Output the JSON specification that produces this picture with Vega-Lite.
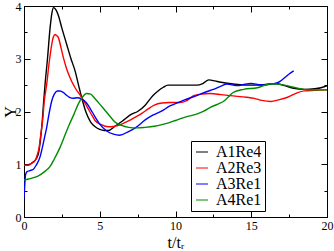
{
  "$schema": "https://vega.github.io/schema/vega-lite/v6.json",
  "autosize": {"type": "none"},
  "padding": {"left": 24, "top": 6, "right": 7, "bottom": 34},
  "width": 303,
  "height": 211,
  "background": "white",
  "config": {
    "font": "Liberation Serif",
    "style": {
      "guide-label": {"font": "Liberation Serif"},
      "guide-title": {"font": "Liberation Serif"}
    },
    "view": {"stroke": "black", "strokeWidth": 1},
    "axis": {
      "grid": false,
      "domainColor": "black",
      "tickColor": "black",
      "labelColor": "black",
      "titleColor": "black",
      "labelFont": "Liberation Serif",
      "titleFont": "Liberation Serif",
      "labelFontSize": 12,
      "titleFontSize": 16,
      "titleFontWeight": "normal"
    }
  },
  "datasets": {
    "curves": [
      {"t":0,"y":0.98,"s":"A1Re4"},{"t":0.3,"y":0.99,"s":"A1Re4"},{"t":0.6,"y":1.04,"s":"A1Re4"},{"t":0.8,"y":1.1,"s":"A1Re4"},{"t":0.95,"y":1.2,"s":"A1Re4"},{"t":1.1,"y":1.5,"s":"A1Re4"},{"t":1.2,"y":1.8,"s":"A1Re4"},{"t":1.3,"y":2.2,"s":"A1Re4"},{"t":1.4,"y":2.55,"s":"A1Re4"},{"t":1.55,"y":3.0,"s":"A1Re4"},{"t":1.72,"y":3.58,"s":"A1Re4"},{"t":1.85,"y":3.88,"s":"A1Re4"},{"t":1.95,"y":3.97,"s":"A1Re4"},{"t":2.1,"y":3.93,"s":"A1Re4"},{"t":2.27,"y":3.82,"s":"A1Re4"},{"t":2.5,"y":3.58,"s":"A1Re4"},{"t":2.82,"y":3.27,"s":"A1Re4"},{"t":3.1,"y":3.0,"s":"A1Re4"},{"t":3.37,"y":2.77,"s":"A1Re4"},{"t":3.6,"y":2.5,"s":"A1Re4"},{"t":3.8,"y":2.27,"s":"A1Re4"},{"t":4.1,"y":1.98,"s":"A1Re4"},{"t":4.4,"y":1.8,"s":"A1Re4"},{"t":4.7,"y":1.71,"s":"A1Re4"},{"t":5.0,"y":1.66,"s":"A1Re4"},{"t":5.3,"y":1.64,"s":"A1Re4"},{"t":5.57,"y":1.64,"s":"A1Re4"},{"t":6.0,"y":1.72,"s":"A1Re4"},{"t":6.5,"y":1.82,"s":"A1Re4"},{"t":7.1,"y":1.95,"s":"A1Re4"},{"t":7.5,"y":2.0,"s":"A1Re4"},{"t":8.0,"y":2.12,"s":"A1Re4"},{"t":8.5,"y":2.3,"s":"A1Re4"},{"t":8.85,"y":2.39,"s":"A1Re4"},{"t":9.2,"y":2.46,"s":"A1Re4"},{"t":9.5,"y":2.5,"s":"A1Re4"},{"t":10.0,"y":2.5,"s":"A1Re4"},{"t":10.6,"y":2.5,"s":"A1Re4"},{"t":11.4,"y":2.5,"s":"A1Re4"},{"t":11.8,"y":2.53,"s":"A1Re4"},{"t":12.2,"y":2.6,"s":"A1Re4"},{"t":12.6,"y":2.58,"s":"A1Re4"},{"t":12.9,"y":2.56,"s":"A1Re4"},{"t":13.8,"y":2.52,"s":"A1Re4"},{"t":14.7,"y":2.5,"s":"A1Re4"},{"t":15.5,"y":2.5,"s":"A1Re4"},{"t":16.2,"y":2.52,"s":"A1Re4"},{"t":16.6,"y":2.53,"s":"A1Re4"},{"t":17.2,"y":2.49,"s":"A1Re4"},{"t":17.8,"y":2.44,"s":"A1Re4"},{"t":18.5,"y":2.42,"s":"A1Re4"},{"t":19.2,"y":2.43,"s":"A1Re4"},{"t":19.6,"y":2.45,"s":"A1Re4"},{"t":20,"y":2.49,"s":"A1Re4"},

      {"t":0,"y":0.98,"s":"A2Re3"},{"t":0.3,"y":0.98,"s":"A2Re3"},{"t":0.5,"y":1.02,"s":"A2Re3"},{"t":0.73,"y":1.07,"s":"A2Re3"},{"t":0.9,"y":1.2,"s":"A2Re3"},{"t":1.0,"y":1.32,"s":"A2Re3"},{"t":1.1,"y":1.55,"s":"A2Re3"},{"t":1.23,"y":1.83,"s":"A2Re3"},{"t":1.34,"y":2.2,"s":"A2Re3"},{"t":1.5,"y":2.52,"s":"A2Re3"},{"t":1.65,"y":2.9,"s":"A2Re3"},{"t":1.83,"y":3.27,"s":"A2Re3"},{"t":1.95,"y":3.42,"s":"A2Re3"},{"t":2.05,"y":3.46,"s":"A2Re3"},{"t":2.15,"y":3.44,"s":"A2Re3"},{"t":2.27,"y":3.4,"s":"A2Re3"},{"t":2.45,"y":3.2,"s":"A2Re3"},{"t":2.6,"y":3.02,"s":"A2Re3"},{"t":2.8,"y":2.82,"s":"A2Re3"},{"t":3.04,"y":2.64,"s":"A2Re3"},{"t":3.37,"y":2.45,"s":"A2Re3"},{"t":3.8,"y":2.27,"s":"A2Re3"},{"t":4.2,"y":2.07,"s":"A2Re3"},{"t":4.5,"y":1.92,"s":"A2Re3"},{"t":4.69,"y":1.83,"s":"A2Re3"},{"t":5.1,"y":1.75,"s":"A2Re3"},{"t":5.57,"y":1.71,"s":"A2Re3"},{"t":6.0,"y":1.72,"s":"A2Re3"},{"t":6.45,"y":1.76,"s":"A2Re3"},{"t":6.9,"y":1.82,"s":"A2Re3"},{"t":7.33,"y":1.89,"s":"A2Re3"},{"t":7.8,"y":1.97,"s":"A2Re3"},{"t":8.2,"y":2.05,"s":"A2Re3"},{"t":8.6,"y":2.12,"s":"A2Re3"},{"t":9.1,"y":2.16,"s":"A2Re3"},{"t":9.6,"y":2.17,"s":"A2Re3"},{"t":10.3,"y":2.17,"s":"A2Re3"},{"t":10.7,"y":2.2,"s":"A2Re3"},{"t":11.2,"y":2.3,"s":"A2Re3"},{"t":11.7,"y":2.33,"s":"A2Re3"},{"t":12.3,"y":2.34,"s":"A2Re3"},{"t":13.0,"y":2.32,"s":"A2Re3"},{"t":13.6,"y":2.3,"s":"A2Re3"},{"t":14.7,"y":2.27,"s":"A2Re3"},{"t":15.2,"y":2.25,"s":"A2Re3"},{"t":15.7,"y":2.21,"s":"A2Re3"},{"t":16.3,"y":2.19,"s":"A2Re3"},{"t":16.8,"y":2.22,"s":"A2Re3"},{"t":17.4,"y":2.27,"s":"A2Re3"},{"t":18.0,"y":2.35,"s":"A2Re3"},{"t":18.5,"y":2.39,"s":"A2Re3"},{"t":19.2,"y":2.4,"s":"A2Re3"},{"t":20,"y":2.41,"s":"A2Re3"},

      {"t":0,"y":0.35,"s":"A3Re1"},{"t":0.05,"y":0.6,"s":"A3Re1"},{"t":0.1,"y":0.8,"s":"A3Re1"},{"t":0.2,"y":0.86,"s":"A3Re1"},{"t":0.4,"y":0.88,"s":"A3Re1"},{"t":0.6,"y":0.9,"s":"A3Re1"},{"t":0.8,"y":0.98,"s":"A3Re1"},{"t":1.06,"y":1.14,"s":"A3Re1"},{"t":1.2,"y":1.3,"s":"A3Re1"},{"t":1.35,"y":1.5,"s":"A3Re1"},{"t":1.5,"y":1.7,"s":"A3Re1"},{"t":1.65,"y":1.95,"s":"A3Re1"},{"t":1.83,"y":2.2,"s":"A3Re1"},{"t":2.0,"y":2.33,"s":"A3Re1"},{"t":2.2,"y":2.39,"s":"A3Re1"},{"t":2.38,"y":2.39,"s":"A3Re1"},{"t":2.6,"y":2.36,"s":"A3Re1"},{"t":2.8,"y":2.31,"s":"A3Re1"},{"t":3.0,"y":2.27,"s":"A3Re1"},{"t":3.26,"y":2.25,"s":"A3Re1"},{"t":3.5,"y":2.26,"s":"A3Re1"},{"t":3.8,"y":2.24,"s":"A3Re1"},{"t":4.1,"y":2.17,"s":"A3Re1"},{"t":4.36,"y":2.06,"s":"A3Re1"},{"t":4.69,"y":1.9,"s":"A3Re1"},{"t":5.0,"y":1.76,"s":"A3Re1"},{"t":5.46,"y":1.63,"s":"A3Re1"},{"t":5.9,"y":1.57,"s":"A3Re1"},{"t":6.3,"y":1.55,"s":"A3Re1"},{"t":6.9,"y":1.62,"s":"A3Re1"},{"t":7.4,"y":1.7,"s":"A3Re1"},{"t":8.0,"y":1.84,"s":"A3Re1"},{"t":8.5,"y":1.93,"s":"A3Re1"},{"t":9.1,"y":2.01,"s":"A3Re1"},{"t":9.6,"y":2.1,"s":"A3Re1"},{"t":10.0,"y":2.15,"s":"A3Re1"},{"t":10.6,"y":2.22,"s":"A3Re1"},{"t":11.4,"y":2.3,"s":"A3Re1"},{"t":12.0,"y":2.37,"s":"A3Re1"},{"t":12.5,"y":2.42,"s":"A3Re1"},{"t":13.0,"y":2.48,"s":"A3Re1"},{"t":13.4,"y":2.52,"s":"A3Re1"},{"t":13.8,"y":2.5,"s":"A3Re1"},{"t":14.1,"y":2.49,"s":"A3Re1"},{"t":14.6,"y":2.52,"s":"A3Re1"},{"t":15.0,"y":2.53,"s":"A3Re1"},{"t":15.5,"y":2.51,"s":"A3Re1"},{"t":15.8,"y":2.5,"s":"A3Re1"},{"t":16.3,"y":2.52,"s":"A3Re1"},{"t":16.6,"y":2.53,"s":"A3Re1"},{"t":16.9,"y":2.57,"s":"A3Re1"},{"t":17.2,"y":2.64,"s":"A3Re1"},{"t":17.5,"y":2.71,"s":"A3Re1"},{"t":17.8,"y":2.77,"s":"A3Re1"},

      {"t":0,"y":0.7,"s":"A4Re1"},{"t":0.3,"y":0.72,"s":"A4Re1"},{"t":0.7,"y":0.75,"s":"A4Re1"},{"t":1.06,"y":0.8,"s":"A4Re1"},{"t":1.4,"y":0.87,"s":"A4Re1"},{"t":1.7,"y":0.95,"s":"A4Re1"},{"t":2.0,"y":1.1,"s":"A4Re1"},{"t":2.38,"y":1.32,"s":"A4Re1"},{"t":2.7,"y":1.55,"s":"A4Re1"},{"t":3.0,"y":1.76,"s":"A4Re1"},{"t":3.3,"y":1.95,"s":"A4Re1"},{"t":3.58,"y":2.14,"s":"A4Re1"},{"t":3.85,"y":2.27,"s":"A4Re1"},{"t":4.14,"y":2.34,"s":"A4Re1"},{"t":4.4,"y":2.33,"s":"A4Re1"},{"t":4.69,"y":2.24,"s":"A4Re1"},{"t":5.0,"y":2.14,"s":"A4Re1"},{"t":5.35,"y":2.02,"s":"A4Re1"},{"t":5.7,"y":1.9,"s":"A4Re1"},{"t":6.0,"y":1.8,"s":"A4Re1"},{"t":6.4,"y":1.74,"s":"A4Re1"},{"t":6.9,"y":1.7,"s":"A4Re1"},{"t":7.5,"y":1.69,"s":"A4Re1"},{"t":8.0,"y":1.7,"s":"A4Re1"},{"t":8.6,"y":1.72,"s":"A4Re1"},{"t":9.1,"y":1.75,"s":"A4Re1"},{"t":9.6,"y":1.79,"s":"A4Re1"},{"t":10.0,"y":1.83,"s":"A4Re1"},{"t":10.6,"y":1.89,"s":"A4Re1"},{"t":11.4,"y":1.95,"s":"A4Re1"},{"t":11.9,"y":2.01,"s":"A4Re1"},{"t":12.3,"y":2.08,"s":"A4Re1"},{"t":12.8,"y":2.14,"s":"A4Re1"},{"t":13.2,"y":2.2,"s":"A4Re1"},{"t":13.5,"y":2.28,"s":"A4Re1"},{"t":13.8,"y":2.36,"s":"A4Re1"},{"t":14.5,"y":2.42,"s":"A4Re1"},{"t":15.4,"y":2.45,"s":"A4Re1"},{"t":16.2,"y":2.52,"s":"A4Re1"},{"t":16.6,"y":2.52,"s":"A4Re1"},{"t":17.2,"y":2.5,"s":"A4Re1"},{"t":17.8,"y":2.46,"s":"A4Re1"},{"t":18.5,"y":2.42,"s":"A4Re1"},{"t":19.2,"y":2.41,"s":"A4Re1"},{"t":20,"y":2.41,"s":"A4Re1"}
    ]
  },
  "data": {"name": "curves"},
  "layer": [
    {
      "mark": {"type": "line", "interpolate": "monotone", "strokeWidth": 1.4, "clip": true},
      "encoding": {
        "x": {
          "field": "t", "type": "quantitative",
          "scale": {"domain": [0, 20], "nice": false, "zero": false},
          "axis": {
            "orient": "bottom",
            "title": "t/tᵣ",
            "values": [0, 2.5, 5, 7.5, 10, 12.5, 15, 17.5, 20],
            "labelExpr": "datum.value % 5 === 0 ? format(datum.value, 'd') : ''",
            "tickSize": {"condition": {"test": "datum.value % 5 === 0", "value": -6}, "value": -3},
            "labelPadding": 9,
            "labelFlush": false,
            "labelFont": "Liberation Serif",
            "titleFont": "Liberation Serif",
            "titlePadding": 3
          }
        },
        "y": {
          "field": "y", "type": "quantitative",
          "scale": {"domain": [0, 4], "nice": false},
          "axis": {
            "orient": "left",
            "title": "Y",
            "values": [0, 0.5, 1, 1.5, 2, 2.5, 3, 3.5, 4],
            "labelExpr": "datum.value % 1 === 0 ? format(datum.value, 'd') : ''",
            "tickSize": {"condition": {"test": "datum.value % 1 === 0", "value": -6}, "value": -3},
            "labelPadding": 9,
            "labelFlush": false,
            "labelFont": "Liberation Serif",
            "titleFont": "Liberation Serif",
            "titlePadding": -3
          }
        },
        "color": {
          "field": "s", "type": "nominal",
          "scale": {"domain": ["A1Re4", "A2Re3", "A3Re1", "A4Re1"], "range": ["black", "red", "blue", "#008b00"]},
          "legend": {
            "title": null,
            "orient": "none",
            "legendX": 167,
            "legendY": 135,
            "strokeColor": "black",
            "fillColor": "white",
            "padding": 3,
            "symbolType": "stroke",
            "symbolSize": 144,
            "symbolStrokeWidth": 1,
            "labelFont": "Liberation Serif",
            "labelFontSize": 16,
            "labelColor": "black",
            "labelOffset": 6,
            "rowPadding": -2
          }
        }
      }
    },
    {
      "mark": {"type": "line", "opacity": 0},
      "encoding": {
        "x": {
          "field": "t", "type": "quantitative",
          "axis": {
            "orient": "top", "title": null, "labels": false,
            "values": [0, 2.5, 5, 7.5, 10, 12.5, 15, 17.5, 20],
            "tickSize": {"condition": {"test": "datum.value % 5 === 0", "value": -6}, "value": -3}
          }
        },
        "y": {
          "field": "y", "type": "quantitative",
          "axis": {
            "orient": "right", "title": null, "labels": false,
            "values": [0, 0.5, 1, 1.5, 2, 2.5, 3, 3.5, 4],
            "tickSize": {"condition": {"test": "datum.value % 1 === 0", "value": -6}, "value": -3}
          }
        },
        "detail": {"field": "s"}
      }
    }
  ],
  "resolve": {"axis": {"x": "independent", "y": "independent"}}
}
